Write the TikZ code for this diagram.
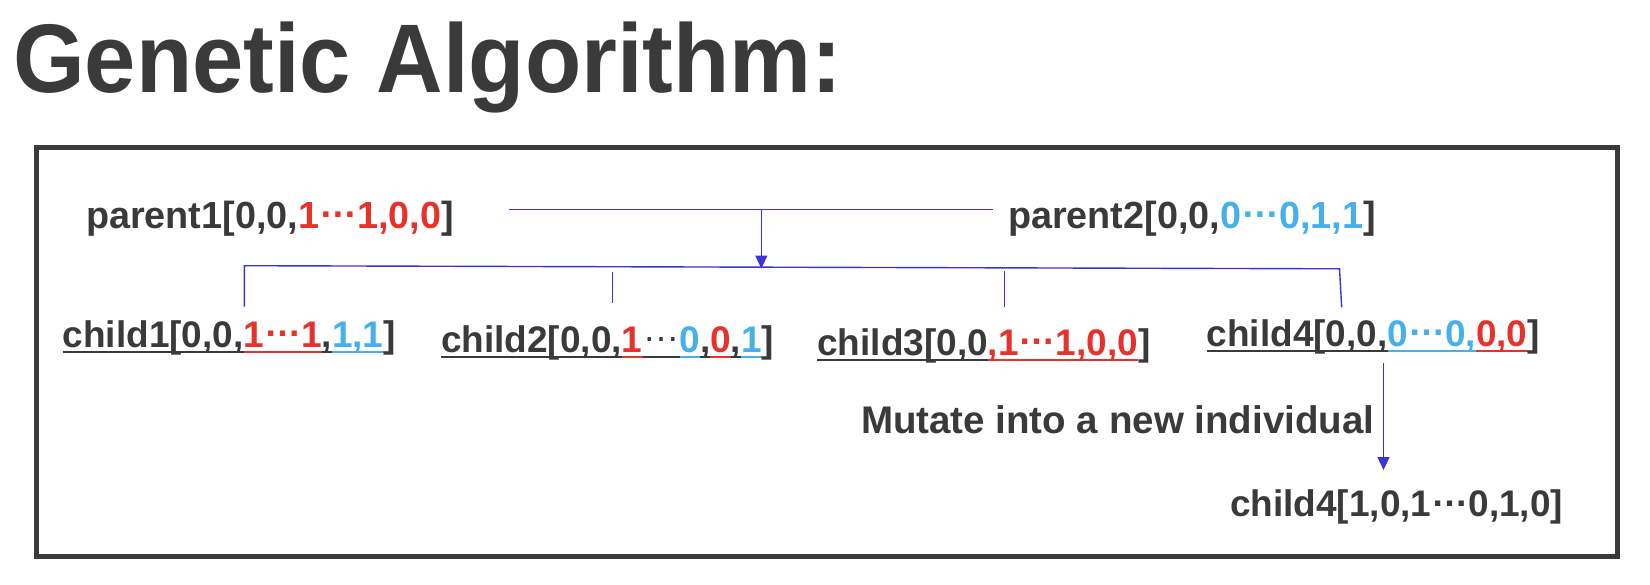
\documentclass[tikz,border=0pt]{standalone}
\usepackage{fontspec}
\usepackage{graphicx}
\setmainfont{Liberation Sans}
\usetikzlibrary{arrows.meta}
\definecolor{tc}{HTML}{3A3A3A}
\definecolor{rd}{HTML}{E8312A}
\definecolor{bl}{HTML}{45B0EA}
\definecolor{conn}{HTML}{3C33D6}
\newcommand\mydots{\raisebox{0.28em}{…}}
\newcommand\ulseg[2]{{\color{#1}\setbox0\hbox{#2}\rlap{\rule[-6pt]{\wd0}{2.2pt}}\box0}}
\begin{document}
\begin{tikzpicture}[x=1pt,y=-1pt,
  lbl/.style={inner sep=0pt,outer sep=0pt,anchor=base west,text=tc,
    font=\fontsize{37}{44}\selectfont\bfseries},
  plbl/.style={lbl,font=\fontsize{37.8}{44}\selectfont\bfseries},
  mlbl/.style={lbl,font=\fontsize{38.5}{44}\selectfont\bfseries},
  link/.style={draw=conn,line width=1.4pt},
  arr/.style={link,-{Triangle[width=12pt,length=13pt]}},
  frame/.style={draw=tc,line width=5pt}]
\useasboundingbox (0,0) rectangle (1650,584);
% title
\node[inner sep=0pt,anchor=base west,text=tc] (title) at (13,92)
  {\scalebox{0.945}[1]{\fontsize{97.5}{110}\selectfont\bfseries Genetic Algorithm:}};
% frame
\draw[frame] (36.5,147.5) rectangle (1617.5,556.5);
% parents
\node[plbl] (p1) at (86,228) {parent1[0,0,\textcolor{rd}{1\mydots1,0,0}]};
\node[plbl] (p2) at (1008,228) {parent2[0,0,\textcolor{bl}{0\mydots0,1,1}]};
% children
\node[lbl] (c1) at (62.7,347) {\ulseg{tc}{child1[0,0,}\ulseg{rd}{1\mydots1}\ulseg{tc}{,}\ulseg{bl}{1,1}]};
\node[lbl] (c2) at (441,352) {\ulseg{tc}{child2[0,0,}\ulseg{rd}{1}\ulseg{tc}{\mdseries\mydots}\ulseg{bl}{0}\ulseg{tc}{,}\ulseg{rd}{0}\ulseg{tc}{,}\ulseg{bl}{1}]};
\node[lbl] (c3) at (817.3,355) {\ulseg{tc}{child3[0,0}\ulseg{rd}{,1\mydots1,0,0}]};
\node[lbl] (c4) at (1206.7,346) {\ulseg{tc}{child4[0,0,}\ulseg{bl}{0\mydots0,}\ulseg{rd}{0,0}]};
% mutation
\node[mlbl] (mut) at (861,433) {Mutate into a new individual};
\node[lbl] (c4n) at (1230,516.7) {child4[1,0,1\mydots0,1,0]};
% connector coordinates
\coordinate (pl) at (509,209.3);
\coordinate (pr) at (993,209.3);
\coordinate (pm) at (761.3,209.3);
\coordinate (bm) at (761.3,268.5);
\coordinate (b1) at (244.3,265.7);
\coordinate (b4) at (1339.5,268.8);
\coordinate (b2) at (612.3,271.5);
\coordinate (b3) at (1004.3,271);
\coordinate (t1) at (244.3,306.7);
\coordinate (t2) at (612.3,302.7);
\coordinate (t3) at (1004.3,306.7);
\coordinate (t4) at (1341.7,307.3);
\coordinate (ms) at (1383.5,363.3);
\coordinate (me) at (1383.5,470);
% connectors
\draw[link] (pl) -- (pr);
\draw[arr] (pm) -- (bm);
\draw[link] (t1) -- (b1) -- (b4) -- (t4);
\draw[link] (b2) -- (t2);
\draw[link] (b3) -- (t3);
\draw[arr] (ms) -- (me);
\end{tikzpicture}
\end{document}
